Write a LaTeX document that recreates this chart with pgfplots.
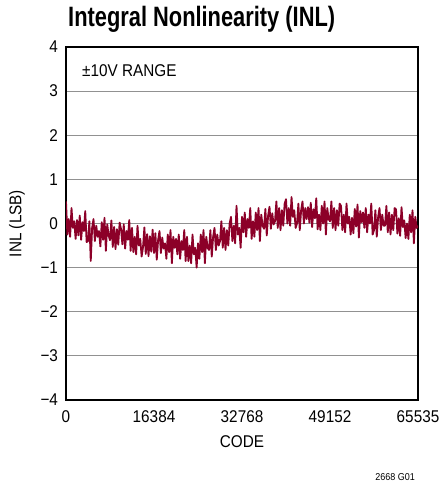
\documentclass[border=0pt]{standalone}
\usepackage{fontspec}
\setmainfont{Liberation Sans}[FakeStretch=0.9]
\newfontfamily\titlefont{Liberation Sans}[FakeStretch=0.78]
\usepackage{pgfplots}
\pgfplotsset{compat=1.18}
\usepackage{pgfplotstable}
\usetikzlibrary{calc}
\definecolor{inlred}{RGB}{140,0,40}
\definecolor{gridgray}{RGB}{145,145,145}

% INL in LSB against code
\pgfplotstableread{
code inl
0 0.50
256 -0.25
512 0.10
768 -0.30
1024 0.35
1280 -0.10
1536 0.05
1792 -0.35
2048 0.08
2304 -0.27
2560 0.18
2816 -0.37
3072 0.03
3328 -0.17
3584 0.28
3840 -0.42
4096 -0.40
4352 0.05
4608 -0.85
4864 -0.10
5120 0.10
5376 -0.40
5632 -0.05
5888 -0.30
6144 -0.17
6400 -0.52
6656 0.03
6912 -0.37
7168 0.13
7424 -0.62
7680 -0.02
7936 -0.27
8192 -0.38
8448 0.07
8704 -0.53
8960 -0.08
9216 -0.58
9472 -0.13
9728 -0.48
9984 0.02
10240 -0.12
10496 -0.47
10752 -0.02
11008 -0.57
11264 -0.17
11520 -0.37
11776 0.08
12032 -0.62
12288 -0.10
12544 -0.65
12800 -0.30
13056 -0.70
13312 -0.05
13568 -0.50
13824 -0.35
14080 -0.75
14336 -0.54
14592 -0.09
14848 -0.69
15104 -0.24
15360 -0.74
15616 -0.29
15872 -0.64
16128 -0.14
16384 -0.67
16640 -0.22
16896 -0.82
17152 -0.37
17408 -0.17
17664 -0.67
17920 -0.32
18176 -0.57
18432 -0.45
18688 -0.80
18944 -0.25
19200 -0.65
19456 -0.15
19712 -0.90
19968 -0.30
20224 -0.55
20480 -0.35
20736 -0.70
20992 -0.25
21248 -0.80
21504 -0.40
21760 -0.60
22016 -0.15
22272 -0.85
22528 -0.30
22784 -0.85
23040 -0.50
23296 -0.90
23552 -0.25
23808 -0.70
24064 -0.55
24320 -1.00
24576 -0.45
24832 -0.80
25088 -0.25
25344 -0.65
25600 -0.15
25856 -0.90
26112 -0.30
26368 -0.55
26624 -0.60
26880 -0.15
27136 -0.75
27392 -0.30
27648 -0.10
27904 -0.60
28160 -0.25
28416 -0.50
28672 -0.40
28928 0.05
29184 -0.55
29440 -0.10
29696 -0.60
29952 -0.15
30208 -0.50
30464 0.00
30720 0.15
30976 -0.40
31232 -0.05
31488 -0.45
31744 0.40
32000 -0.25
32256 -0.10
32512 -0.55
32768 0.15
33024 -0.20
33280 0.25
33536 -0.30
33792 0.10
34048 -0.10
34304 0.35
34560 -0.35
34816 0.05
35072 -0.30
35328 0.25
35584 -0.15
35840 0.35
36096 -0.40
36352 0.20
36608 -0.05
36864 -0.12
37120 0.33
37376 -0.27
37632 0.18
37888 0.38
38144 -0.12
38400 0.23
38656 -0.02
38912 0.05
39168 0.50
39424 -0.10
39680 0.35
39936 -0.15
40192 0.30
40448 -0.05
40704 0.45
40960 0.55
41216 0.00
41472 0.35
41728 -0.05
41984 0.60
42240 0.15
42496 0.30
42752 -0.10
43008 0.00
43264 0.45
43520 -0.15
43776 0.30
44032 0.50
44288 0.00
44544 0.35
44800 0.10
45056 0.37
45312 0.02
45568 0.47
45824 -0.08
46080 0.32
46336 0.12
46592 0.57
46848 -0.13
47104 0.20
47360 -0.15
47616 0.40
47872 0.00
48128 0.50
48384 -0.25
48640 0.35
48896 0.10
49152 0.05
49408 0.50
49664 -0.10
49920 0.35
50176 -0.15
50432 0.30
50688 -0.05
50944 0.45
51200 0.40
51456 -0.15
51712 0.20
51968 -0.20
52224 0.45
52480 0.00
52736 0.15
52992 -0.25
53248 0.13
53504 -0.22
53760 0.33
54016 -0.07
54272 0.43
54528 -0.32
54784 0.28
55040 0.03
55296 0.25
55552 -0.10
55808 0.35
56064 -0.20
56320 0.20
56576 0.00
56832 0.45
57088 -0.25
57344 -0.15
57600 0.30
57856 -0.30
58112 0.15
58368 0.35
58624 -0.15
58880 0.20
59136 -0.05
59392 -0.05
59648 0.40
59904 -0.20
60160 0.25
60416 -0.25
60672 0.20
60928 -0.15
61184 0.35
61440 0.32
61696 -0.23
61952 0.12
62208 -0.28
62464 0.37
62720 -0.08
62976 0.07
63232 -0.33
63488 0.00
63744 -0.35
64000 0.20
64256 -0.20
64512 0.30
64768 -0.45
65024 0.15
65280 -0.10
65535 -0.05
}\inldata

\begin{document}
\begin{tikzpicture}
\begin{axis}[
    name=ax,
    scale only axis,
    width=352pt, height=353pt,
    xmin=0, xmax=65535,
    ymin=-4, ymax=4,
    scaled x ticks=false,
    xtick={0,16384,32768,49152,65535},
    xticklabels={0,16384,32768,49152,65535},
    ytick={-4,-3,-2,-1,0,1,2,3,4},
    yticklabels={−4,−3,−2,−1,0,1,2,3,4},
    ymajorgrids,
    major grid style={gridgray, line width=1pt},
    major tick length=0pt,
    axis line style={line width=1.4pt},
    tick label style={font=\fontsize{17}{19}\selectfont},
    xticklabel style={yshift=-7pt},
    yticklabel style={xshift=-4.5pt},
    xlabel=CODE,
    ylabel={INL (LSB)},
    label style={font=\fontsize{17}{19}\selectfont},
    xlabel style={at={(axis description cs:0.5,0)}, anchor=north, yshift=-32pt},
    ylabel style={at={(axis description cs:-0.139,0.5)}, anchor=center},
]
\addplot[inlred, line width=1.8pt, line join=round] table[x=code, y=inl] {\inldata};
\end{axis}
\node[anchor=base west, inner sep=0pt, font=\titlefont\bfseries\fontsize{28}{30}\selectfont]
    at ($(ax.north west)+(2pt,20pt)$) {Integral Nonlinearity (INL)};
\node[anchor=base west, inner sep=0pt, font=\fontsize{17}{19}\selectfont]
    at ($(ax.north west)+(16pt,-30pt)$) {±10V RANGE};
\node[anchor=base east, inner sep=0pt, font=\fontsize{10}{12}\selectfont]
    at ($(ax.south east)+(-3pt,-81pt)$) {2668 G01};
\pgfresetboundingbox
\path ($(ax.south west)+(-66pt,-85pt)$) rectangle ($(ax.north east)+(25pt,47pt)$);
\end{tikzpicture}
\end{document}
